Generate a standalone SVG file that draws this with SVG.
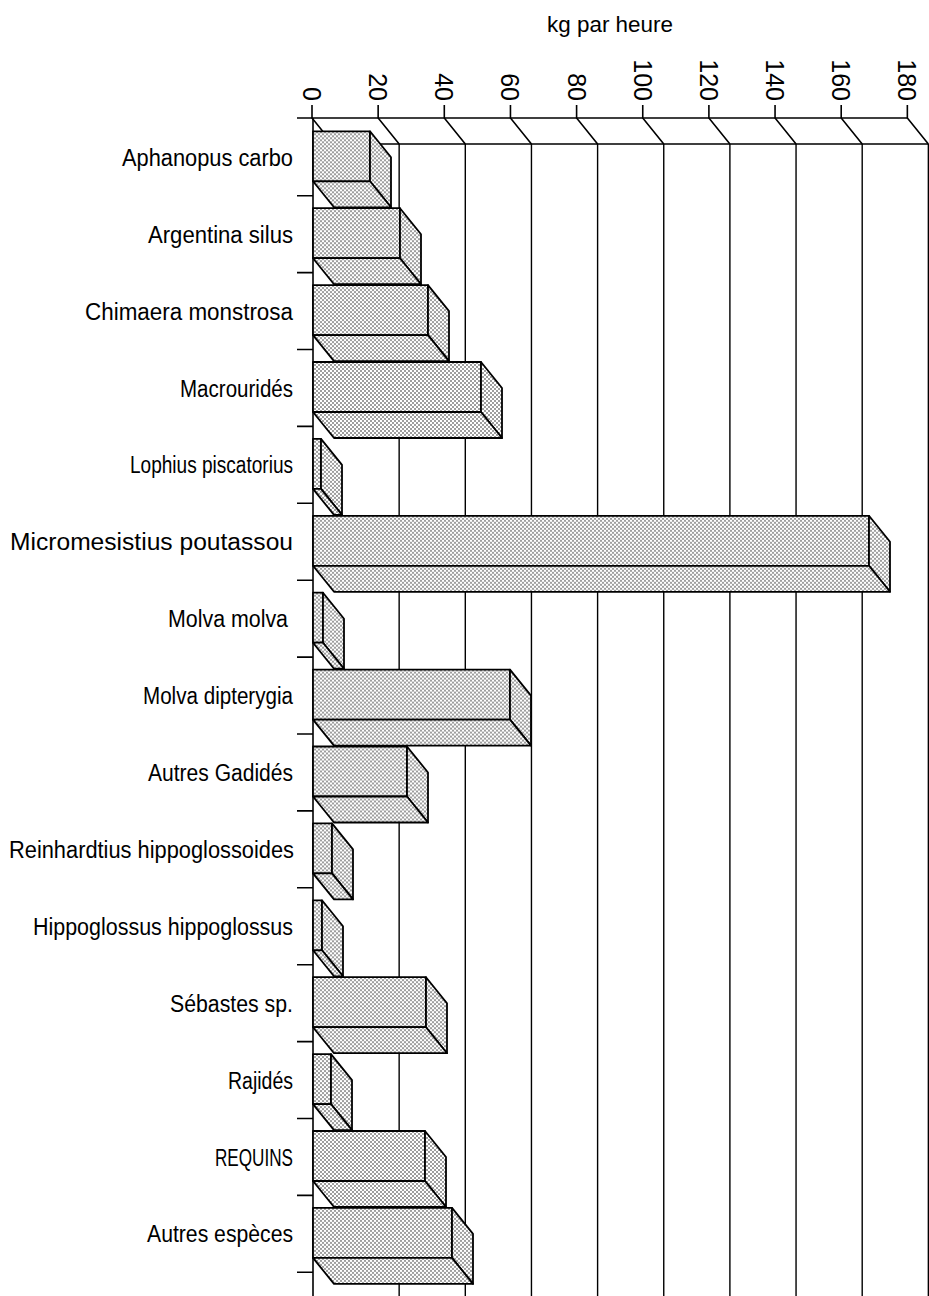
<svg xmlns="http://www.w3.org/2000/svg" width="929" height="1296" viewBox="0 0 929 1296">
<defs>
<pattern id="dots" width="4" height="4" patternUnits="userSpaceOnUse">
<rect width="4" height="4" fill="#fff"/>
<circle cx="1" cy="1" r="0.8" fill="#222"/>
<circle cx="3" cy="3" r="0.8" fill="#222"/>
</pattern>
</defs>
<style>
.ln{stroke:#000;stroke-width:1.6;fill:none}
.gl{stroke:#000;stroke-width:1.4;fill:none}
.bar{fill:url(#dots);stroke:#000;stroke-width:1.8;stroke-linejoin:round}
.lab{font-family:"Liberation Sans",Arial,sans-serif;font-size:23px;fill:#000;text-anchor:end}
.tk{font-family:"Liberation Sans",Arial,sans-serif;font-size:25px;fill:#000;text-anchor:end}
.ttl{font-family:"Liberation Sans",Arial,sans-serif;font-size:22.5px;fill:#000}
</style>
<rect width="929" height="1296" fill="#fff"/>
<g id="axes">
<text class="ttl" x="547" y="32" textLength="126" lengthAdjust="spacingAndGlyphs">kg par heure</text>
<path class="ln" d="M297 118H907.35M333 144H928.35M313 118V1296"/>
<path class="gl" d="M399.15 144V1296M465.3 144V1296M531.45 144V1296M597.6 144V1296M663.75 144V1296M729.9 144V1296M796.05 144V1296M862.2 144V1296M928.35 144V1296"/>
<path class="ln" d="M312 105V118L333 144M378.15 105V118L399.15 144M444.3 105V118L465.3 144M510.45 105V118L531.45 144M576.6 105V118L597.6 144M642.75 105V118L663.75 144M708.9 105V118L729.9 144M775.05 105V118L796.05 144M841.2 105V118L862.2 144M907.35 105V118L928.35 144"/>
<path class="ln" d="M297 195.7H313M297 272.6H313M297 349.5H313M297 426.4H313M297 503.3H313M297 580.2H313M297 657.1H313M297 734H313M297 810.9H313M297 887.8H313M297 964.7H313M297 1041.6H313M297 1118.5H313M297 1195.4H313M297 1272.3H313"/>
<text class="tk" transform="translate(303,101) rotate(90)">0</text>
<text class="tk" transform="translate(369.15,101) rotate(90)">20</text>
<text class="tk" transform="translate(435.3,101) rotate(90)">40</text>
<text class="tk" transform="translate(501.45,101) rotate(90)">60</text>
<text class="tk" transform="translate(567.6,101) rotate(90)">80</text>
<text class="tk" transform="translate(633.75,101) rotate(90)">100</text>
<text class="tk" transform="translate(699.9,101) rotate(90)">120</text>
<text class="tk" transform="translate(766.05,101) rotate(90)">140</text>
<text class="tk" transform="translate(832.2,101) rotate(90)">160</text>
<text class="tk" transform="translate(898.35,101) rotate(90)">180</text>
</g>
<g id="bar-aphanopus" transform="translate(0,131.3)">
<rect class="bar" x="313" y="0" width="57" height="50"/>
<polygon class="bar" points="370,0 391,26 391,76 370,50"/>
<polygon class="bar" points="313,50 370,50 391,76 334,76"/>
<text class="lab" x="293" y="34.5" textLength="171" lengthAdjust="spacingAndGlyphs">Aphanopus carbo</text>
</g>
<g id="bar-argentina" transform="translate(0,208.2)">
<rect class="bar" x="313" y="0" width="87" height="50"/>
<polygon class="bar" points="400,0 421,26 421,76 400,50"/>
<polygon class="bar" points="313,50 400,50 421,76 334,76"/>
<text class="lab" x="293" y="34.5" textLength="145" lengthAdjust="spacingAndGlyphs">Argentina silus</text>
</g>
<g id="bar-chimaera" transform="translate(0,285.1)">
<rect class="bar" x="313" y="0" width="115" height="50"/>
<polygon class="bar" points="428,0 449,26 449,76 428,50"/>
<polygon class="bar" points="313,50 428,50 449,76 334,76"/>
<text class="lab" x="293" y="34.5" textLength="208" lengthAdjust="spacingAndGlyphs">Chimaera monstrosa</text>
</g>
<g id="bar-macrourides" transform="translate(0,362)">
<rect class="bar" x="313" y="0" width="168" height="50"/>
<polygon class="bar" points="481,0 502,26 502,76 481,50"/>
<polygon class="bar" points="313,50 481,50 502,76 334,76"/>
<text class="lab" x="293" y="34.5" textLength="113" lengthAdjust="spacingAndGlyphs">Macrouridés</text>
</g>
<g id="bar-lophius" transform="translate(0,438.9)">
<rect class="bar" x="313" y="0" width="8" height="50"/>
<polygon class="bar" points="321,0 342,26 342,76 321,50"/>
<polygon class="bar" points="313,50 321,50 342,76 334,76"/>
<text class="lab" x="293" y="34.5" textLength="163" lengthAdjust="spacingAndGlyphs">Lophius piscatorius</text>
</g>
<g id="bar-micromesistius" transform="translate(0,515.8)">
<rect class="bar" x="313" y="0" width="556" height="50"/>
<polygon class="bar" points="869,0 890,26 890,76 869,50"/>
<polygon class="bar" points="313,50 869,50 890,76 334,76"/>
<text class="lab" x="293" y="34.5" textLength="283" lengthAdjust="spacingAndGlyphs">Micromesistius poutassou</text>
</g>
<g id="bar-molva-molva" transform="translate(0,592.7)">
<rect class="bar" x="313" y="0" width="10" height="50"/>
<polygon class="bar" points="323,0 344,26 344,76 323,50"/>
<polygon class="bar" points="313,50 323,50 344,76 334,76"/>
<text class="lab" x="288" y="34.5" textLength="120" lengthAdjust="spacingAndGlyphs">Molva molva</text>
</g>
<g id="bar-molva-dipterygia" transform="translate(0,669.6)">
<rect class="bar" x="313" y="0" width="197" height="50"/>
<polygon class="bar" points="510,0 531,26 531,76 510,50"/>
<polygon class="bar" points="313,50 510,50 531,76 334,76"/>
<text class="lab" x="293" y="34.5" textLength="150" lengthAdjust="spacingAndGlyphs">Molva dipterygia</text>
</g>
<g id="bar-gadides" transform="translate(0,746.5)">
<rect class="bar" x="313" y="0" width="94" height="50"/>
<polygon class="bar" points="407,0 428,26 428,76 407,50"/>
<polygon class="bar" points="313,50 407,50 428,76 334,76"/>
<text class="lab" x="293" y="34.5" textLength="145" lengthAdjust="spacingAndGlyphs">Autres Gadidés</text>
</g>
<g id="bar-reinhardtius" transform="translate(0,823.4)">
<rect class="bar" x="313" y="0" width="19" height="50"/>
<polygon class="bar" points="332,0 353,26 353,76 332,50"/>
<polygon class="bar" points="313,50 332,50 353,76 334,76"/>
<text class="lab" x="294" y="34.5" textLength="285" lengthAdjust="spacingAndGlyphs">Reinhardtius hippoglossoides</text>
</g>
<g id="bar-hippoglossus" transform="translate(0,900.3)">
<rect class="bar" x="313" y="0" width="9" height="50"/>
<polygon class="bar" points="322,0 343,26 343,76 322,50"/>
<polygon class="bar" points="313,50 322,50 343,76 334,76"/>
<text class="lab" x="293" y="34.5" textLength="260" lengthAdjust="spacingAndGlyphs">Hippoglossus hippoglossus</text>
</g>
<g id="bar-sebastes" transform="translate(0,977.2)">
<rect class="bar" x="313" y="0" width="113" height="50"/>
<polygon class="bar" points="426,0 447,26 447,76 426,50"/>
<polygon class="bar" points="313,50 426,50 447,76 334,76"/>
<text class="lab" x="293" y="34.5" textLength="123" lengthAdjust="spacingAndGlyphs">Sébastes sp.</text>
</g>
<g id="bar-rajides" transform="translate(0,1054.1)">
<rect class="bar" x="313" y="0" width="18" height="50"/>
<polygon class="bar" points="331,0 352,26 352,76 331,50"/>
<polygon class="bar" points="313,50 331,50 352,76 334,76"/>
<text class="lab" x="293" y="34.5" textLength="65" lengthAdjust="spacingAndGlyphs">Rajidés</text>
</g>
<g id="bar-requins" transform="translate(0,1131)">
<rect class="bar" x="313" y="0" width="112" height="50"/>
<polygon class="bar" points="425,0 446,26 446,76 425,50"/>
<polygon class="bar" points="313,50 425,50 446,76 334,76"/>
<text class="lab" x="293" y="34.5" textLength="78" lengthAdjust="spacingAndGlyphs">REQUINS</text>
</g>
<g id="bar-autres-especes" transform="translate(0,1207.9)">
<rect class="bar" x="313" y="0" width="139" height="50"/>
<polygon class="bar" points="452,0 473,26 473,76 452,50"/>
<polygon class="bar" points="313,50 452,50 473,76 334,76"/>
<text class="lab" x="293" y="34.5" textLength="146" lengthAdjust="spacingAndGlyphs">Autres espèces</text>
</g>
</svg>
